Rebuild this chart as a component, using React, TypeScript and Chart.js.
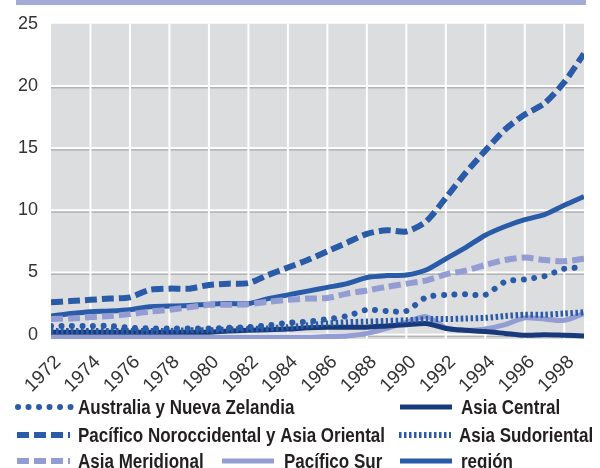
import React, { useEffect, useRef } from "react";
import { Chart, registerables } from "chart.js";

Chart.register(...registerables);

const years = [
  1972, 1973, 1974, 1975, 1976, 1977, 1978, 1979, 1980, 1981, 1982, 1983, 1984, 1985,
  1986, 1987, 1988, 1989, 1990, 1991, 1992, 1993, 1994, 1995, 1996, 1997, 1998, 1999,
];

const australia = [
  0.7, 0.7, 0.7, 0.7, 0.55, 0.5, 0.5, 0.5, 0.5, 0.55, 0.6, 0.75, 0.95, 1.05,
  1.25, 1.5, 2.0, 1.9, 1.9, 3.0, 3.2, 3.25, 3.2, 4.25, 4.45, 4.7, 5.3, 5.4,
];
const asiaCentral = [
  0.2, 0.2, 0.2, 0.2, 0.2, 0.2, 0.2, 0.2, 0.2, 0.3, 0.35, 0.4, 0.45, 0.55,
  0.6, 0.6, 0.6, 0.7, 0.8, 0.9, 0.5, 0.35, 0.25, 0.1, -0.05, 0.0, -0.05, -0.1,
];
const pacificoNO = [
  2.6, 2.7, 2.8, 2.9, 3.0, 3.6, 3.7, 3.7, 4.0, 4.1, 4.15, 4.8, 5.4, 6.0,
  6.7, 7.4, 8.1, 8.4, 8.3, 9.1, 11.0, 13.0, 14.8, 16.5, 17.7, 18.6, 20.3, 22.6,
];
const asiaSudoriental = [
  0.3, 0.3, 0.3, 0.3, 0.3, 0.3, 0.3, 0.35, 0.35, 0.4, 0.45, 0.5, 0.6, 0.75,
  0.9, 1.0, 1.05, 1.1, 1.15, 1.25, 1.25, 1.3, 1.35, 1.5, 1.6, 1.6, 1.7, 1.8,
];
const asiaMeridional = [
  1.25, 1.3, 1.4, 1.5, 1.65, 1.85, 2.0, 2.2, 2.4, 2.4, 2.45, 2.65, 2.8, 2.9,
  2.95, 3.3, 3.55, 3.85, 4.1, 4.35, 4.85, 5.15, 5.6, 6.0, 6.2, 6.0, 5.9, 6.1,
];
const pacificoSur = [
  -0.2, -0.2, -0.2, -0.2, -0.2, -0.2, -0.2, -0.2, -0.2, -0.2, -0.2, -0.2, -0.2, -0.2,
  -0.15, -0.1, 0.1, 0.5, 1.0, 1.45, 0.55, 0.35, 0.45, 0.8, 1.35, 1.25, 1.15, 1.7,
];
const region = [
  1.5, 1.7, 1.85, 1.9, 2.0, 2.25, 2.3, 2.35, 2.45, 2.5, 2.5, 2.9, 3.2, 3.5,
  3.8, 4.1, 4.6, 4.75, 4.8, 5.2, 6.1, 7.0, 8.0, 8.7, 9.25, 9.65, 10.4, 11.1,
];

const seriesLabels = [
  "Australia y Nueva Zelandia",
  "Asia Central",
  "Pacífico Noroccidental y Asia Oriental",
  "Asia Sudoriental",
  "Asia Meridional",
  "Pacífico Sur",
  "región",
];

const xTickYears = [1972, 1974, 1976, 1978, 1980, 1982, 1984, 1986, 1988, 1990, 1992, 1994, 1996, 1998];
const yTickValues = [0, 5, 10, 15, 20, 25];

const BLUE = "#2a5ba9";
const NAVY = "#183a7a";
const LILAC = "#939cd3";

type Style = { color: string; width: number; dash: number[]; cap: CanvasLineCap };
const styles: Style[] = [
  { color: BLUE, width: 6, dash: [0.01, 10.5], cap: "round" },
  { color: NAVY, width: 5, dash: [], cap: "butt" },
  { color: BLUE, width: 6, dash: [12, 5], cap: "butt" },
  { color: BLUE, width: 6, dash: [2.5, 2.5], cap: "butt" },
  { color: LILAC, width: 6, dash: [12, 5], cap: "butt" },
  { color: LILAC, width: 5, dash: [], cap: "butt" },
  { color: BLUE, width: 5, dash: [], cap: "butt" },
];
const seriesData = [australia, asiaCentral, pacificoNO, asiaSudoriental, asiaMeridional, pacificoSur, region];
const drawOrder = [3, 0, 2, 1, 4, 5, 6];

// legend layout: [series index, symbol x start, symbol x end, text x, row y]
const legendLayout: [number, number, number, number, number][] = [
  [0, 15, 72, 78, 407],
  [1, 400, 452, 461, 407],
  [2, 17, 70, 78, 435],
  [3, 399, 451, 459, 435],
  [4, 17, 70, 78, 461],
  [5, 222, 274, 284, 461],
  [6, 400, 452, 461, 461],
];

const bgPlugin = {
  id: "bgPlugin",
  beforeDraw(chart: any) {
    const { ctx, chartArea } = chart;
    const xs = chart.scales.x;
    const ys = chart.scales.y;
    ctx.save();
    ctx.fillStyle = "#a3acd6";
    ctx.fillRect(16, 0, 570, 5);
    ctx.fillStyle = "#dcdddf";
    ctx.fillRect(chartArea.left, chartArea.top, chartArea.right - chartArea.left, chartArea.bottom - chartArea.top);
    for (const v of yTickValues) {
      if (v === 25) continue;
      const y = ys.getPixelForValue(v);
      ctx.fillStyle = "#ffffff";
      ctx.fillRect(chartArea.left, y - 1, chartArea.right - chartArea.left, 2);
      ctx.fillStyle = "#b3b3b6";
      ctx.fillRect(chartArea.left, y + 1, chartArea.right - chartArea.left, 1.5);
    }
    ctx.fillStyle = "#ffffff";
    for (const v of xTickYears) {
      if (v === 1972) continue;
      const x = xs.getPixelForValue(v);
      ctx.fillRect(x - 1, chartArea.top, 2, chartArea.bottom - chartArea.top);
    }
    ctx.restore();
  },
  afterDraw(chart: any) {
    const { ctx } = chart;
    ctx.save();
    for (const [i, x0, x1, tx, y] of legendLayout) {
      const s = styles[i];
      ctx.strokeStyle = s.color;
      ctx.lineWidth = s.width;
      ctx.lineCap = s.cap;
      ctx.setLineDash(s.dash);
      ctx.beginPath();
      ctx.moveTo(i === 0 ? x0 + 3 : x0, y);
      ctx.lineTo(x1, y);
      ctx.stroke();
      ctx.setLineDash([]);
      ctx.save();
      ctx.translate(tx, y + 1);
      ctx.scale(0.85, 1);
      ctx.fillStyle = "#231f20";
      ctx.font = 'bold 20px "Liberation Sans", sans-serif';
      ctx.textBaseline = "middle";
      ctx.textAlign = "left";
      ctx.fillText(seriesLabels[i], 0, 0);
      ctx.restore();
    }
    ctx.restore();
  },
};

export default function App() {
  const ref = useRef<HTMLCanvasElement>(null);
  useEffect(() => {
    if (!ref.current) return;
    const datasets = drawOrder.map((i, k) => ({
      label: seriesLabels[i],
      data: years.map((yr, j) => ({ x: yr, y: seriesData[i][j] })),
      borderColor: styles[i].color,
      borderWidth: styles[i].width,
      borderDash: styles[i].dash,
      borderCapStyle: styles[i].cap,
      pointRadius: 0,
      tension: 0.25,
      fill: false,
      order: k,
    }));
    const chart = new Chart(ref.current, {
      type: "line",
      data: { datasets },
      plugins: [bgPlugin],
      options: {
        responsive: false,
        animation: false,
        devicePixelRatio: 1,
        layout: { padding: { left: 0, right: 16, top: 21, bottom: 0 } },
        plugins: { legend: { display: false }, tooltip: { enabled: false } },
        scales: {
          x: {
            type: "linear",
            min: 1972,
            max: 1999,
            grid: { display: false },
            border: { display: false },
            afterBuildTicks: (s: any) => {
              s.ticks = xTickYears.map((v) => ({ value: v }));
            },
            afterFit: (s: any) => {
              s.height = 129;
            },
            ticks: {
              autoSkip: false,
              maxRotation: 45,
              minRotation: 45,
              labelOffset: 7,
              padding: 4,
              color: "#333333",
              font: { family: '"Liberation Sans", sans-serif', size: 19 },
              callback: (v: any) => String(v),
            },
          },
          y: {
            min: -0.35,
            max: 25,
            grid: { display: false, drawTicks: false },
            border: { display: false },
            afterBuildTicks: (s: any) => {
              s.ticks = yTickValues.map((v) => ({ value: v }));
            },
            afterFit: (s: any) => {
              s.width = 51;
            },
            ticks: {
              padding: 13,
              color: "#333333",
              font: { family: '"Liberation Sans", sans-serif', size: 18 },
              callback: (v: any) => String(v),
            },
          },
        },
      },
    } as any);
    return () => chart.destroy();
  }, []);
  return (
    <div style={{ position: "absolute", left: 0, top: 0, width: 600, height: 468 }}>
      <canvas ref={ref} width={600} height={468} />
    </div>
  );
}
